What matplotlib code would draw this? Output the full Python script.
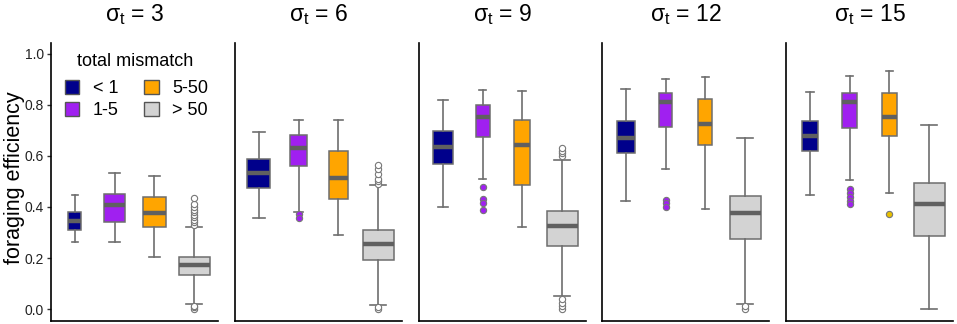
import matplotlib
matplotlib.use('Agg')
import matplotlib.pyplot as plt
from matplotlib.patches import Patch
import numpy as np

plt.rcParams['font.family'] = ['Liberation Sans', 'DejaVu Sans']
plt.rcParams['mathtext.fontset'] = 'custom'
plt.rcParams['mathtext.rm'] = 'Liberation Sans'
plt.rcParams['mathtext.it'] = 'Liberation Sans'

sigmas = [3, 6, 9, 12, 15]
groups = ['< 1', '1-5', '5-50', '> 50']
colors = ['#00008b', '#a020f0', '#ffa500', '#d3d3d3']

# per panel, per group: whisker low, q1, median, q3, whisker high
whislo = [[0.262, 0.262, 0.203, 0.020],
          [0.358, 0.382, 0.290, 0.017],
          [0.401, 0.510, 0.323, 0.051],
          [0.425, 0.549, 0.393, 0.020],
          [0.448, 0.505, 0.454, 0.000]]
q1 = [[0.310, 0.342, 0.320, 0.132],
      [0.476, 0.561, 0.431, 0.193],
      [0.567, 0.676, 0.485, 0.248],
      [0.610, 0.714, 0.642, 0.275],
      [0.620, 0.710, 0.678, 0.288]]
med = [[0.345, 0.408, 0.375, 0.173],
       [0.533, 0.630, 0.514, 0.256],
       [0.635, 0.753, 0.644, 0.324],
       [0.672, 0.812, 0.724, 0.375],
       [0.678, 0.812, 0.752, 0.412]]
q3 = [[0.379, 0.450, 0.438, 0.205],
      [0.588, 0.682, 0.618, 0.310],
      [0.698, 0.799, 0.741, 0.386],
      [0.736, 0.846, 0.822, 0.443],
      [0.736, 0.846, 0.846, 0.493]]
whishi = [[0.447, 0.532, 0.523, 0.323],
          [0.695, 0.742, 0.740, 0.486],
          [0.821, 0.860, 0.856, 0.584],
          [0.861, 0.903, 0.910, 0.672],
          [0.852, 0.915, 0.933, 0.723]]
outliers = [[[], [], [], [0.33, 0.34, 0.35, 0.36, 0.37, 0.38, 0.39, 0.40, 0.41, 0.437, 0.0, 0.006, 0.013]],
            [[], [0.372, 0.355], [], [0.49, 0.50, 0.51, 0.53, 0.55, 0.565, 0.0, 0.008]],
            [[], [0.48, 0.43, 0.415, 0.39], [], [0.60, 0.61, 0.62, 0.633, 0.0, 0.012, 0.025, 0.04]],
            [[], [0.427, 0.414, 0.401], [], [0.0, 0.01]],
            [[], [0.47, 0.455, 0.44, 0.425, 0.41], [0.371], []]]
# relative group sizes (box width ~ sqrt of size)
rel_n = [[0.18, 0.47, 0.53, 1.0],
         [0.54, 0.30, 0.39, 1.0],
         [0.43, 0.21, 0.27, 1.0],
         [0.35, 0.18, 0.20, 1.0],
         [0.25, 0.22, 0.24, 1.0]]

W, H = 957, 324
fig = plt.figure(figsize=(W / 100, H / 100), dpi=100)
lefts = [51, 235, 419, 602, 786]
pw = 167
top, bottom = 43, 321

flier_face = ['#00008b', '#a020f0', '#e8c000', 'white']

for p in range(5):
    ax = fig.add_axes([lefts[p] / W, (H - bottom) / H, pw / W, (bottom - top) / H])
    stats = []
    for g in range(4):
        stats.append(dict(med=med[p][g], q1=q1[p][g], q3=q3[p][g],
                          whislo=whislo[p][g], whishi=whishi[p][g],
                          fliers=outliers[p][g]))
    widths = [0.78 * np.sqrt(n) for n in rel_n[p]]
    bp = ax.bxp(stats, positions=[1, 2, 3, 4], widths=widths,
                capwidths=[w * 0.5 for w in widths], patch_artist=True,
                boxprops=dict(edgecolor='#6e6e6e', linewidth=1.1),
                whiskerprops=dict(color='#6e6e6e', linewidth=1.2),
                capprops=dict(color='#6e6e6e', linewidth=1.2),
                medianprops=dict(color='#606060', linewidth=3.2))
    for g, box in enumerate(bp['boxes']):
        box.set_facecolor(colors[g])
    for g, fl in enumerate(bp['fliers']):
        fl.set(marker='o', markersize=4.5, markerfacecolor=flier_face[g],
               markeredgecolor='#777777', markeredgewidth=0.8)
    ax.set_xlim(0.4, 4.6)
    ax.set_ylim(-0.047, 1.043)
    for s in ['top', 'right']:
        ax.spines[s].set_visible(False)
    for s in ['left', 'bottom']:
        ax.spines[s].set_linewidth(1.2)
        ax.spines[s].set_color('black')
    ax.set_xticks([])
    if p == 0:
        ax.set_yticks([0.0, 0.2, 0.4, 0.6, 0.8, 1.0])
        ax.set_yticklabels(['0.0', '0.2', '0.4', '0.6', '0.8', '1.0'])
        ax.tick_params(axis='y', length=3, width=1, color='#333333',
                       labelsize=10, labelcolor='#222222', pad=2)
        handles = [Patch(facecolor=c, edgecolor='#555555', linewidth=1) for c in colors]
        leg = ax.legend(handles, groups, ncol=2, frameon=False, loc='upper left',
                        bbox_to_anchor=(65 / W, 1 - 80 / H), bbox_transform=fig.transFigure,
                        fontsize=13, handlelength=0.8, handleheight=0.8,
                        handletextpad=0.75, columnspacing=1.4, labelspacing=0.25,
                        borderpad=0, borderaxespad=0)
        fig.text(135 / W, 1 - 61 / H, 'total mismatch', ha='center', va='center',
                 fontsize=13)
    else:
        ax.set_yticks([])
    fig.text((lefts[p] + pw / 2) / W, 1 - 15 / H,
             r'$\mathrm{\sigma_t}$ = %d' % sigmas[p],
             ha='center', va='center', fontsize=16.5)

fig.text(15 / W, 1 - 178 / H, 'foraging efficiency', rotation=90,
         ha='center', va='center', fontsize=15.5)

fig.savefig('out.png', dpi=100)
